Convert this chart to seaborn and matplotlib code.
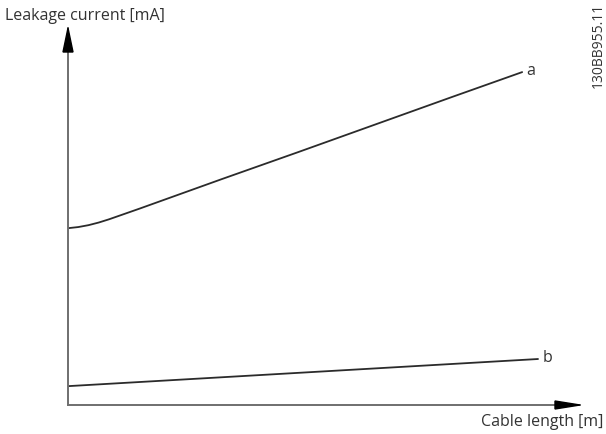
import matplotlib
matplotlib.use("Agg")
import matplotlib.pyplot as plt
from matplotlib.patches import Polygon
import seaborn as sns
import pandas as pd

# data (arbitrary units: cable length 0-100, leakage 0-100)
a_length = [0, 2, 4, 6, 8, 10, 12, 14, 18, 30, 45, 60, 75, 88.7]
a_current = [46.9, 47.2, 47.7, 48.4, 49.25, 50.2, 51.15, 52.1, 54.05,
             59.9, 67.1, 74.4, 81.7, 88.3]
b_length = [0, 91.8]
b_current = [5.0, 12.2]
series_labels = ["a", "b"]
x_label = "Cable length [m]"
y_label = "Leakage current [mA]"
figure_id = "130BB955.11"

df = pd.concat([
    pd.DataFrame({"length": a_length, "current": a_current, "curve": series_labels[0]}),
    pd.DataFrame({"length": b_length, "current": b_current, "curve": series_labels[1]}),
])

sns.set_theme(style="white")
plt.rcParams["font.family"] = ["Open Sans", "DejaVu Sans"]

W, H = 606, 434
fig = plt.figure(figsize=(W / 100, H / 100), dpi=100)
x0, y0, x1, y1 = 68, 405, 580, 28
ax = fig.add_axes([x0 / W, (H - y0) / H, (x1 - x0) / W, (y0 - y1) / H])
ax.set_xlim(0, 100)
ax.set_ylim(0, 100)

sns.lineplot(data=df, x="length", y="current", units="curve", estimator=None,
             sort=False, color="#2b2b2b", linewidth=1.3, ax=ax, legend=False)

for lab, xs, ys in [(series_labels[0], a_length, a_current),
                    (series_labels[1], b_length, b_current)]:
    ax.annotate(lab, xy=(xs[-1], ys[-1]), xytext=(3, 1), textcoords="offset points",
                ha="left", va="center", fontsize=11.5, color="#333333")

for s in ["top", "right"]:
    ax.spines[s].set_visible(False)
for s in ["left", "bottom"]:
    ax.spines[s].set_color("#6f6f6f")
    ax.spines[s].set_linewidth(1.4)
ax.set_xticks([])
ax.set_yticks([])
ax.set_xlabel("")
ax.set_ylabel("")
ax.grid(False)

# arrow heads
axw, axh = x1 - x0, y0 - y1
yl, yw = 24 / axh, 5 / axw
ax.add_patch(Polygon([(0, 1), (-yw, 1 - yl), (yw, 1 - yl)], closed=True,
                     transform=ax.transAxes, color="black", clip_on=False, zorder=5))
xl, xw = 25 / axw, 4 / axh
ax.add_patch(Polygon([(1, 0), (1 - xl, xw), (1 - xl, -xw)], closed=True,
                     transform=ax.transAxes, color="black", clip_on=False, zorder=5))

fig.text(5 / W, 1 - 20 / H, y_label, ha="left", va="baseline", fontsize=11.5, color="#333333")
fig.text(603 / W, 1 - 422 / H, x_label, ha="right", va="center", fontsize=11.5, color="#333333")
fig.text(598 / W, 1 - 45 / H, figure_id, ha="center", va="center", rotation=90,
         fontsize=10, color="#333333")

fig.savefig("out.png", dpi=100)
